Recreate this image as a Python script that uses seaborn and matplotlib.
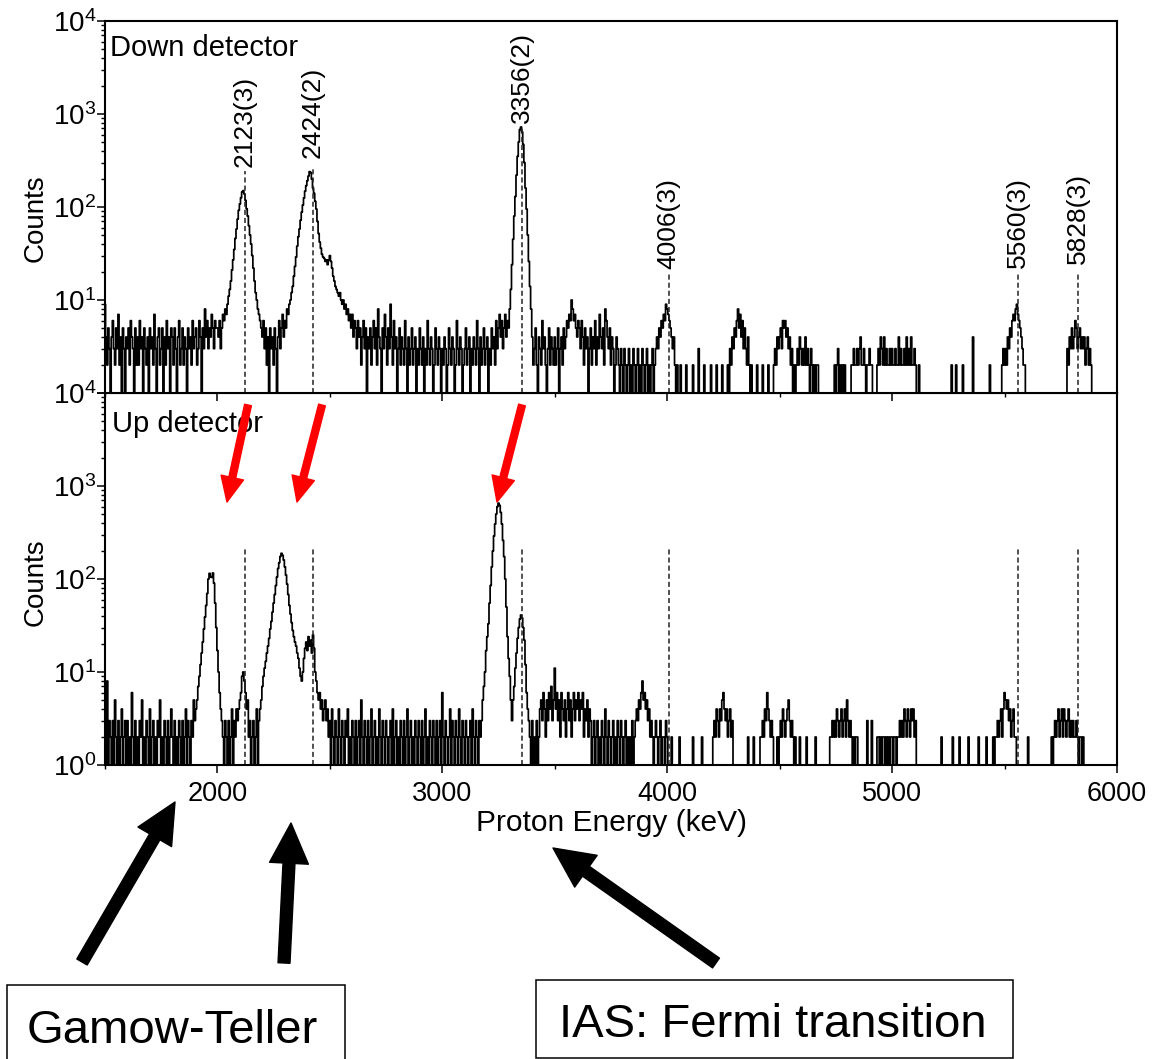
import numpy as np
import pandas as pd
import matplotlib
matplotlib.use("Agg")
import matplotlib.pyplot as plt
import seaborn as sns
from matplotlib.ticker import MultipleLocator, LogLocator, FuncFormatter, NullFormatter
from matplotlib.patches import Rectangle, FancyArrowPatch

# ---------------- data: counts per 5 keV bin ----------------
BIN_START = 1500
BIN_WIDTH = 5

# Down detector (each list covers 500 keV)
down_1500 = [9,4,2,5,3,0,4,6,3,2, 5,3,7,2,4,1,5,3,0,4, 3,5,2,6,4,3,0,5,2,4,
             2,6,3,4,0,5,3,2,4,1, 5,3,4,2,7,3,0,4,5,2, 3,5,0,4,2,6,3,4,1,5,
             4,2,5,3,0,4,6,2,3,5, 2,4,3,0,5,3,4,2,6,3, 4,5,2,3,6,4,0,5,3,8,
             4,6,3,5,4,7,5,3,6,5]
down_2000 = [5,4,6,3,5,7,6,8,7,9, 11,13,16,21,27,35,46,58,74,92,
             108,126,145,150,138,118,96,80,63,50, 40,30,22,16,12,10,8,7,6,5,
             4,6,3,5,2,4,0,5,3,4, 2,5,3,0,4,6,3,5,7,4,
             6,5,8,7,9,10,12,14,18,23, 29,38,48,58,72,88,105,125,148,170,
             192,215,240,235,200,160,140,115,95,70, 52,42,36,31,29,28,26,27,24,27]
down_2500 = [30,26,22,18,16,14,13,12,11,12, 10,9,10,8,9,7,8,6,7,5,
             7,4,6,5,3,6,4,5,2,4, 6,3,5,0,4,3,5,2,4,6,
             3,5,2,8,4,3,0,5,3,7, 4,2,5,3,9,4,2,6,3,4,
             0,3,5,2,4,3,2,6,3,0, 4,2,3,5,2,3,4,0,3,2,
             5,3,2,4,0,3,2,6,3,2, 4,3,0,2,5,3,2,4,3,0]
down_3000 = [3,2,4,3,0,2,5,3,2,4, 3,0,2,6,3,2,4,3,0,2,
             3,5,2,3,4,0,3,2,4,3, 2,6,3,0,4,2,3,5,2,3,
             4,0,3,2,5,3,4,2,6,3, 5,7,4,6,3,5,7,4,6,5,
             8,13,24,45,80,130,220,350,500,680, 725,640,470,300,160,95,50,26,14,8,
             4,2,3,5,2,0,4,3,2,6, 3,4,2,0,3,5,2,4,3,2]
down_3500 = [4,2,3,5,0,3,4,2,5,3, 4,6,5,7,6,10,8,6,7,5,
             4,6,5,3,6,4,2,5,3,4, 0,3,5,2,4,3,6,2,4,3,
             7,4,3,5,2,8,6,4,3,5, 2,4,3,0,2,4,3,2,0,3,
             2,0,3,2,0,2,3,0,2,0, 3,2,0,2,3,0,2,0,3,2,
             0,2,3,0,2,0,2,3,0,2, 3,4,3,5,4,6,5,7,6,9]
down_4000 = [8,7,6,5,4,3,4,2,0,2, 0,0,2,0,0,0,0,2,0,0,
             0,0,0,2,0,0,0,0,3,0, 0,0,0,2,0,0,0,0,0,2,
             0,0,0,0,2,0,0,0,0,2, 0,0,0,0,2,0,3,2,4,3,
             5,4,6,8,5,7,4,6,3,5, 3,2,4,2,0,2,0,0,0,0,
             2,0,0,0,0,2,0,0,0,0, 2,0,0,0,0,2,3,2,4,3]
down_4500 = [4,5,3,6,5,6,4,5,3,4, 2,3,0,2,0,2,3,2,4,3,
             2,3,2,4,2,3,2,0,3,2, 0,2,0,2,2,0,0,0,0,0,
             0,0,0,0,0,0,0,0,0,2, 0,2,3,0,2,0,2,0,2,0,
             0,0,0,0,2,2,3,2,2,3, 2,3,4,2,2,3,2,0,2,2,
             3,2,2,0,0,0,0,2,3,2, 4,3,2,4,2,3,2,2,3,2]
down_5000 = [3,2,2,3,2,2,4,2,3,2, 2,3,2,4,2,3,2,4,2,2,
             3,2,0,0,2,0,0,0,0,0, 0,0,0,0,0,0,0,0,0,0,
             0,0,0,0,0,0,0,0,0,0, 0,0,0,2,0,0,0,2,0,0,
             0,0,0,2,0,0,0,0,0,0, 0,0,4,0,0,0,0,0,0,0,
             0,0,0,0,0,0,0,2,0,0, 0,0,0,0,0,0,0,0,2,3]
down_5500 = [2,3,2,4,3,5,4,6,7,6, 8,9,7,6,5,4,3,2,2,0,
             0,0,0,0,0,0,0,0,0,0, 0,0,0,0,0,0,0,0,0,0,
             0,0,0,0,0,0,0,0,0,0, 0,0,0,0,0,0,3,2,4,3,
             5,3,4,6,5,3,4,5,3,4, 3,4,2,3,4,2,3,2,0,0]

# Up detector
up_1500 = [2,0,8,1,3,2,0,3,1,5, 2,0,3,1,2,4,0,2,3,1, 3,0,2,1,6,2,0,3,1,2,
           0,3,2,5,1,2,0,3,2,1, 4,0,2,3,1,2,0,3,2,5, 1,2,0,3,2,1,3,0,2,4,
           2,0,3,1,2,0,3,2,1,3, 0,2,4,1,3,2,0,3,2,5, 3,4,5,7,9,12,16,21,29,39,
           52,70,100,115,106,104,116,90,55,30]
up_2000 = [17,10,6,4,3,2,0,3,2,1, 3,0,2,4,1,3,2,4,3,4,
           5,6,9,10,8,6,4,5,2,3, 0,2,3,0,2,4,0,3,4,5,
           7,9,11,13,16,19,23,29,35,44, 55,68,85,105,130,150,175,189,180,160,
           135,110,88,68,52,42,34,28,24,21, 19,16,14,11,9,8,10,14,18,21,
           17,24,19,22,16,25,18,10,8,6, 5,6,4,5,3,4,5,3,4,2]
up_2500 = [3,0,4,2,1,3,2,0,4,2, 1,3,2,0,3,2,4,1,2,0,
           3,2,1,3,0,2,3,1,5,2, 0,3,2,1,3,0,2,4,1,2,
           3,0,2,1,4,2,0,3,2,1, 3,2,0,2,3,1,4,0,2,3,
           1,2,0,3,2,1,3,0,2,4, 1,2,3,0,2,1,3,2,0,3,
           2,1,3,0,2,4,1,2,0,3, 2,1,3,2,0,3,1,2,3,0]
up_3000 = [6,2,1,3,2,0,2,4,1,3, 2,0,3,2,1,4,2,0,3,2,
           1,3,2,0,2,3,1,4,2,0, 3,2,1,3,2,3,5,7,10,17,
           24,33,55,85,135,200,290,390,500,600, 655,620,520,390,260,174,100,50,24,14,
           9,5,3,5,7,11,16,23,30,37, 41,38,30,22,12,6,4,3,2,1,
           3,0,2,1,3,0,2,4,5,3, 6,4,2,5,3,6,4,7,3,5]
up_3500 = [11,4,6,3,5,2,6,4,3,5, 2,4,6,3,5,2,4,6,3,5,
           4,6,3,5,4,6,2,4,3,5, 2,4,3,0,2,3,1,2,3,0,
           2,1,3,2,0,4,2,1,3,2, 0,2,3,1,2,0,3,2,1,3,
           2,0,2,3,1,2,0,2,1,3, 0,2,3,4,3,5,4,6,8,5,
           6,4,5,3,4,2,3,2,0,2, 3,2,0,2,3,0,2,2,0,3]
up_4000 = [2,0,0,0,2,0,0,0,0,0, 0,2,0,0,0,0,0,0,0,0,
           0,0,0,2,0,0,0,0,0,0, 0,2,0,0,0,0,0,0,0,0,
           0,2,3,2,4,3,2,4,3,5, 6,4,3,4,2,3,4,2,3,0,
           0,0,0,0,0,0,0,0,0,0, 0,0,2,0,0,0,0,2,0,0,
           0,0,0,2,2,3,2,4,3,6, 4,3,2,3,2,0,0,0,2,0]
up_4500 = [2,3,2,4,3,2,3,4,5,3, 2,3,2,0,2,0,0,0,2,0,
           0,0,0,0,2,0,0,0,0,0, 0,0,2,0,0,0,0,0,0,0,
           0,0,0,0,0,2,2,3,2,3, 2,4,3,2,3,4,2,3,4,2,
           5,3,2,3,2,0,2,0,2,2, 0,0,0,0,0,0,0,0,3,0,
           0,0,3,0,0,0,0,2,2,0, 2,0,2,2,0,2,0,2,0,2]
up_5000 = [2,0,2,2,0,2,2,3,2,3, 2,4,3,2,4,3,2,4,3,4,
           2,3,0,0,0,0,0,0,0,0, 0,0,0,0,0,0,0,0,0,0,
           0,0,0,0,2,0,0,0,0,0, 0,0,0,0,2,0,0,0,0,0,
           2,0,0,0,0,0,0,0,2,0, 0,0,0,0,0,0,0,2,0,0,
           0,0,0,0,2,0,0,0,0,0, 2,0,2,2,3,2,3,4,2,4]
up_5500 = [6,5,4,5,3,4,2,3,4,2, 2,0,0,0,0,0,0,0,0,0,
           0,2,0,0,0,0,0,0,0,0, 0,0,0,0,0,0,0,0,0,0,
           0,0,2,0,2,3,2,3,4,2, 3,4,2,4,3,2,3,4,2,3,
           2,3,2,2,3,2,0,2,2,0, 2,0]

peak_energies = [2123, 2424, 3356, 4006, 5560, 5828]
peak_labels = ["2123(3)", "2424(2)", "3356(2)", "4006(3)", "5560(3)", "5828(3)"]
label_base = [268, 336, 800, 21.5, 22, 24.4]      # counts level of label bottom
dash_top_down = [244, 256, 743, 19.5, 19.5, 19.5]
dash_top_up = 215

x_ticks = [2000, 3000, 4000, 5000, 6000]

# ---------------- build frames ----------------
down_counts = np.concatenate([down_1500, down_2000, down_2500, down_3000, down_3500,
                              down_4000, down_4500, down_5000, down_5500]).astype(float)
up_counts = np.concatenate([up_1500, up_2000, up_2500, up_3000, up_3500,
                            up_4000, up_4500, up_5000, up_5500]).astype(float)
down_df = pd.DataFrame({"energy": BIN_START + BIN_WIDTH * np.arange(len(down_counts)),
                        "counts": down_counts})
up_df = pd.DataFrame({"energy": BIN_START + BIN_WIDTH * np.arange(len(up_counts)),
                      "counts": up_counts})

# ---------------- style ----------------
sns.set_style("ticks")
plt.rcParams['font.family'] = ['Liberation Sans', 'DejaVu Sans']
plt.rcParams['mathtext.fontset'] = 'custom'
plt.rcParams['mathtext.rm'] = 'Liberation Sans'
plt.rcParams['mathtext.it'] = 'Liberation Sans:italic'
plt.rcParams['mathtext.bf'] = 'Liberation Sans:bold'
for k in ("text.color", "axes.labelcolor", "xtick.color", "ytick.color", "axes.edgecolor"):
    plt.rcParams[k] = "black"

W, H = 1161, 1059
fig = plt.figure(figsize=(W / 100, H / 100), dpi=100)
left = 105 / W
width = (1117 - 105) / W
ph = 372 / H
ax_up = fig.add_axes([left, (H - 765) / H, width, ph])
ax_down = fig.add_axes([left, (H - 765) / H + ph, width, ph])

for ax, df in ((ax_down, down_df), (ax_up, up_df)):
    sns.lineplot(data=df, x="energy", y="counts", ax=ax, color="black",
                 linewidth=1.25, estimator=None, legend=False, drawstyle="steps-mid")
    ax.set_yscale("log")
    ax.set_ylim(1, 1e4)
    ax.set_xlim(1500, 6000)
    ax.xaxis.set_major_locator(MultipleLocator(1000))
    ax.xaxis.set_minor_locator(MultipleLocator(500))
    ax.yaxis.set_major_locator(LogLocator(base=10, numticks=10))
    ax.yaxis.set_minor_locator(LogLocator(base=10, subs=np.arange(2, 10), numticks=20))
    ax.yaxis.set_minor_formatter(NullFormatter())
    ax.tick_params(axis="both", which="major", direction="out", length=5.8, width=1.1,
                   colors="black", top=False, right=False)
    ax.tick_params(axis="both", which="minor", direction="out", length=3.2, width=1.0,
                   top=False, right=False)
    ax.tick_params(axis="y", which="major", labelsize=20, pad=0.5)
    ax.tick_params(axis="x", which="major", labelsize=19.5, pad=6)
    for sp in ax.spines.values():
        sp.set_linewidth(1.5)
        sp.set_color("black")
        sp.set_visible(True)
    ax.set_ylabel("Counts", fontsize=20)
    ax.set_xlabel("")


def fmt_down(v, pos):
    e = int(round(np.log10(v)))
    return "" if e == 0 else r"$\mathregular{10^{%d}}$" % e


def fmt_up(v, pos):
    e = int(round(np.log10(v)))
    return r"$\mathregular{10^{%d}}$" % e


ax_down.yaxis.set_major_formatter(FuncFormatter(fmt_down))
ax_up.yaxis.set_major_formatter(FuncFormatter(fmt_up))
ax_down.tick_params(axis="x", labelbottom=False)
ax_up.set_xticks(x_ticks)

ax_down.yaxis.set_label_coords(-0.056, 0.47)
ax_up.yaxis.set_label_coords(-0.056, 0.492)
ax_up.set_xlabel("Proton Energy (keV)", fontsize=21.5)
ax_up.xaxis.set_label_coords(0.5, -0.118)

dash = (0, (3.3, 2.0))
ax_down.vlines(peak_energies, 1, dash_top_down, colors="#222222", linewidth=1.1,
               linestyles=[dash])
ax_up.vlines(peak_energies, 1, dash_top_up, colors="#222222", linewidth=1.1,
             linestyles=[dash])
for e, lab, yb in zip(peak_energies, peak_labels, label_base):
    ax_down.text(e, yb, lab, rotation=90, ha="center", va="bottom", fontsize=19)

ax_down.text(0.005, 0.966, "Down detector", transform=ax_down.transAxes,
             ha="left", va="top", fontsize=21)
ax_up.text(0.007, 0.955, "Up detector", transform=ax_up.transAxes,
           ha="left", va="top", fontsize=21)


# ---------------- annotation arrows and boxes (figure pixel positions) ----------------
def fp(x, y):
    return (x / W, 1 - y / H)


red_style = "simple,head_length=18,head_width=16.5,tail_width=5"
for tail, tip in (((248, 405), (227, 502)), ((322, 405), (297, 502)), ((522, 405), (497, 502))):
    fig.add_artist(FancyArrowPatch(fp(*tail), fp(*tip), transform=fig.transFigure,
                                   arrowstyle=red_style, mutation_scale=1,
                                   color="#ff0000", shrinkA=0, shrinkB=0, zorder=5))

black_style = "simple,head_length=29,head_width=28,tail_width=8.6"
for tail, tip in (((82, 962), (175, 802)), ((284, 963), (291, 823)), ((716, 963), (553, 848))):
    fig.add_artist(FancyArrowPatch(fp(*tail), fp(*tip), transform=fig.transFigure,
                                   arrowstyle=black_style, mutation_scale=1,
                                   color="black", shrinkA=0, shrinkB=0, zorder=5))

fig.add_artist(Rectangle((7 / W, 1 - 1062 / H), 338 / W, 77 / H, transform=fig.transFigure,
                         fill=False, edgecolor="black", linewidth=1.1))
fig.add_artist(Rectangle((536 / W, 1 - 1058 / H), 477 / W, 78 / H, transform=fig.transFigure,
                         fill=False, edgecolor="black", linewidth=1.1))
fig.text(172.5 / W, 1 - 1043 / H, "Gamow-Teller", ha="center", va="baseline", fontsize=34)
fig.text(772.5 / W, 1 - 1037 / H, "IAS: Fermi transition", ha="center", va="baseline",
         fontsize=34)

fig.savefig("out.png", dpi=100)
